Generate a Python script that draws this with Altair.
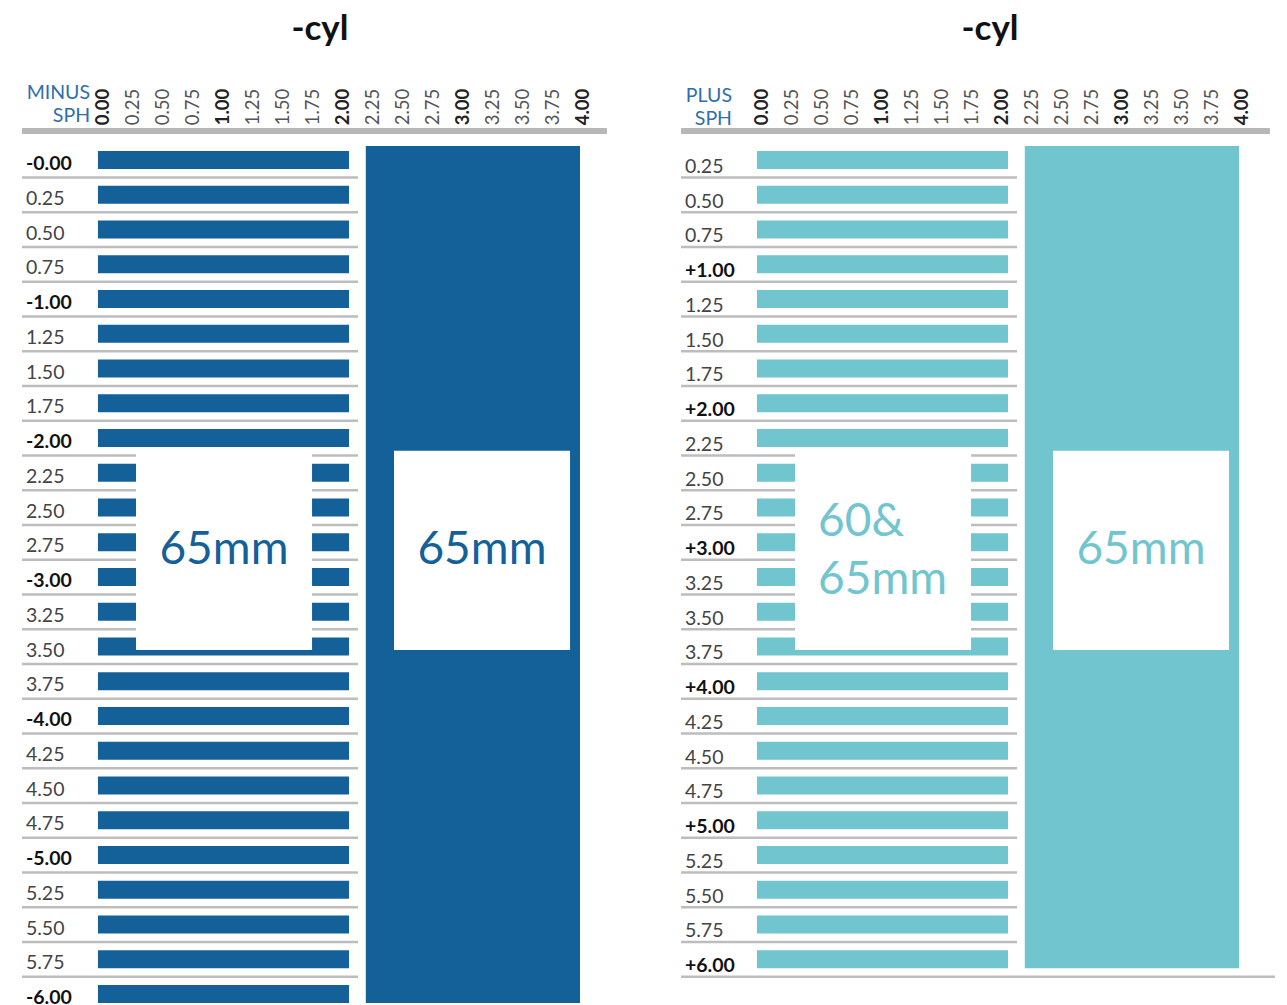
import altair as alt
import pandas as pd

# ---------------- data ----------------
TITLES = ["-cyl", "-cyl"]
CYL = [0.00, 0.25, 0.50, 0.75, 1.00, 1.25, 1.50, 1.75, 2.00,
       2.25, 2.50, 2.75, 3.00, 3.25, 3.50, 3.75, 4.00]
CYL_LABELS = ["0.00", "0.25", "0.50", "0.75", "1.00", "1.25", "1.50", "1.75", "2.00",
              "2.25", "2.50", "2.75", "3.00", "3.25", "3.50", "3.75", "4.00"]
MINUS_ROWS = ["-0.00", "0.25", "0.50", "0.75", "-1.00", "1.25", "1.50", "1.75", "-2.00",
              "2.25", "2.50", "2.75", "-3.00", "3.25", "3.50", "3.75", "-4.00",
              "4.25", "4.50", "4.75", "-5.00", "5.25", "5.50", "5.75", "-6.00"]
PLUS_ROWS = ["0.25", "0.50", "0.75", "+1.00", "1.25", "1.50", "1.75", "+2.00",
             "2.25", "2.50", "2.75", "+3.00", "3.25", "3.50", "3.75", "+4.00",
             "4.25", "4.50", "4.75", "+5.00", "5.25", "5.50", "5.75", "+6.00"]
STOCK_RANGE = [0.00, 2.00]     # stocked cyl range, every sph row
BLOCK_RANGE = [2.25, 4.00]     # cyl range available as one block
MINUS_HEADER = ["MINUS", "SPH"]
PLUS_HEADER = ["PLUS", "SPH"]
MINUS_BOX_ROWS = ["2.25", "3.50"]
PLUS_BOX_ROWS = ["2.50", "3.75"]
MINUS_BOX_TEXT = ["65mm"]
PLUS_BOX_TEXT = ["60&", "65mm"]
BLOCK_TEXT = ["65mm"]

# ---------------- style / geometry ----------------
BLUE = "#14619a"
TEAL = "#70c5ce"
HEAD_BLUE = "#2e6fab"
LINE_GREY = "#bdbdbd"
HEAD_GREY = "#b6b7b6"
FONT = "Lato"

W, H = 610, 1012
PX_PER_CYL = 120.0
PX_PER_ROW = 34.75
X0 = -95 / PX_PER_CYL
X1 = X0 + W / PX_PER_CYL
Y0 = (8 - 160) / PX_PER_ROW
Y1 = Y0 + H / PX_PER_ROW

xs = alt.Scale(domain=[X0, X1], nice=False, zero=False)
ys = alt.Scale(domain=[Y0, Y1], nice=False, zero=False, reverse=True)


def X(f="x"):
    return alt.X(f"{f}:Q", scale=xs, axis=None)


def Y(f="y"):
    return alt.Y(f"{f}:Q", scale=ys, axis=None)


def is_bold(lbl):
    return float(lbl.replace("+", "").replace("-", "")) % 1 == 0


def panel(rows, header, header_right, header_y, box_rows, box_text, box_mode,
          color, title, title_x, row_dy, last_full):
    n = len(rows)
    layers = []
    # stock bars
    bars = pd.DataFrame({
        "sph": rows,
        "x": [STOCK_RANGE[0] - 0.042] * n,
        "x2": [STOCK_RANGE[1] + 0.05] * n,
        "y": [i - 0.259 for i in range(n)],
        "y2": [i + 0.259 for i in range(n)],
    })
    layers.append(alt.Chart(bars).mark_rect(color=color).encode(
        x=X(), x2="x2:Q", y=Y(), y2="y2:Q"))
    # row separator lines
    lines = pd.DataFrame({
        "x": [-0.675] * n,
        "x2": [4.275 if (last_full and i == n - 1) else 2.125 for i in range(n)],
        "y": [i + 0.504 for i in range(n)],
    })
    layers.append(alt.Chart(lines).mark_rule(color=LINE_GREY, strokeWidth=2.5).encode(
        x=X(), x2="x2:Q", y=Y()))
    # header grey line
    hl = pd.DataFrame({"x": [-0.675], "x2": [4.20 if not last_full else 4.233], "y": [-0.835]})
    layers.append(alt.Chart(hl).mark_rule(color=HEAD_GREY, strokeWidth=6).encode(
        x=X(), x2="x2:Q", y=Y()))
    # block
    blk = pd.DataFrame({"x": [BLOCK_RANGE[0] - 0.06], "x2": [BLOCK_RANGE[1] - 0.025],
                        "y": [-0.40], "y2": [n - 1 + 0.259]})
    layers.append(alt.Chart(blk).mark_rect(color=color).encode(
        x=X(), x2="x2:Q", y=Y(), y2="y2:Q"))
    # white boxes
    r0 = rows.index(box_rows[0])
    r1 = rows.index(box_rows[1])
    wb = pd.DataFrame({
        "x": [0.275, 2.425], "x2": [1.742, 3.892],
        "y": [r0 - 0.74, r0 - 0.63], "y2": [r1 + 0.10, r1 + 0.10],
    })
    layers.append(alt.Chart(wb).mark_rect(color="white").encode(
        x=X(), x2="x2:Q", y=Y(), y2="y2:Q"))
    # box texts
    mid = (r0 + r1) / 2 - 0.28
    if box_mode == "center":
        bt = pd.DataFrame({"t": box_text, "x": [1.008], "y": [mid]})
        layers.append(alt.Chart(bt).mark_text(
            font=FONT, fontSize=46, color=color, align="center", baseline="middle").encode(
            x=X(), y=Y(), text="t:N"))
    else:
        bt = pd.DataFrame({"t": box_text, "x": [0.467, 0.467], "y": [mid - 0.80, mid + 0.87]})
        layers.append(alt.Chart(bt).mark_text(
            font=FONT, fontSize=46, color=color, align="left", baseline="middle").encode(
            x=X(), y=Y(), text="t:N"))
    bk = pd.DataFrame({"t": BLOCK_TEXT, "x": [3.158], "y": [mid]})
    layers.append(alt.Chart(bk).mark_text(
        font=FONT, fontSize=46, color=color, align="center", baseline="middle").encode(
        x=X(), y=Y(), text="t:N"))
    # row labels
    rl = pd.DataFrame({"t": rows, "x": [-0.642] * n, "y": [i + row_dy for i in range(n)],
                       "b": [is_bold(r) for r in rows]})
    layers.append(alt.Chart(rl[rl.b]).mark_text(
        font=FONT, fontSize=19.5, fontWeight="bold", color="#111", align="left",
        baseline="middle").encode(x=X(), y=Y(), text="t:N"))
    layers.append(alt.Chart(rl[~rl.b]).mark_text(
        font=FONT, fontSize=19.5, color="#444", align="left",
        baseline="middle").encode(x=X(), y=Y(), text="t:N"))
    # column labels (rotated)
    cl = pd.DataFrame({"t": CYL_LABELS, "x": CYL, "y": [-1.0] * len(CYL),
                       "b": [c % 1 == 0 for c in CYL]})
    layers.append(alt.Chart(cl[cl.b]).mark_text(
        font=FONT, fontSize=18.5, fontWeight="bold", color="#222", angle=270,
        align="left", baseline="middle").encode(x=X(), y=Y(), text="t:N"))
    layers.append(alt.Chart(cl[~cl.b]).mark_text(
        font=FONT, fontSize=18.5, color="#555", angle=270,
        align="left", baseline="middle").encode(x=X(), y=Y(), text="t:N"))
    # header words
    hd = pd.DataFrame({"t": header, "x": [header_right] * 2, "y": header_y})
    layers.append(alt.Chart(hd).mark_text(
        font=FONT, fontSize=19.5, color=HEAD_BLUE, align="right", baseline="middle").encode(
        x=X(), y=Y(), text="t:N"))
    # title
    tt = pd.DataFrame({"t": [title], "x": [title_x], "y": [(29 - 160) / PX_PER_ROW]})
    layers.append(alt.Chart(tt).mark_text(
        font=FONT, fontSize=35, fontWeight="bold", color="#111", align="center",
        baseline="middle").encode(x=X(), y=Y(), text="t:N"))
    return alt.layer(*layers).properties(width=W, height=H)


left = panel(MINUS_ROWS, MINUS_HEADER, -0.108, [-1.928, -1.266], MINUS_BOX_ROWS,
             MINUS_BOX_TEXT, "center", BLUE, TITLES[0], 1.808, 0.12, False)
right = panel(PLUS_ROWS, PLUS_HEADER, -0.25, [-1.84, -1.18], PLUS_BOX_ROWS,
              PLUS_BOX_TEXT, "stack", TEAL, TITLES[1], 1.9, 0.2, True)

chart = alt.hconcat(left, right, spacing=49, padding=0).configure_view(stroke=None)
chart.save("out.html", embed_options={"renderer": "svg", "actions": False})
